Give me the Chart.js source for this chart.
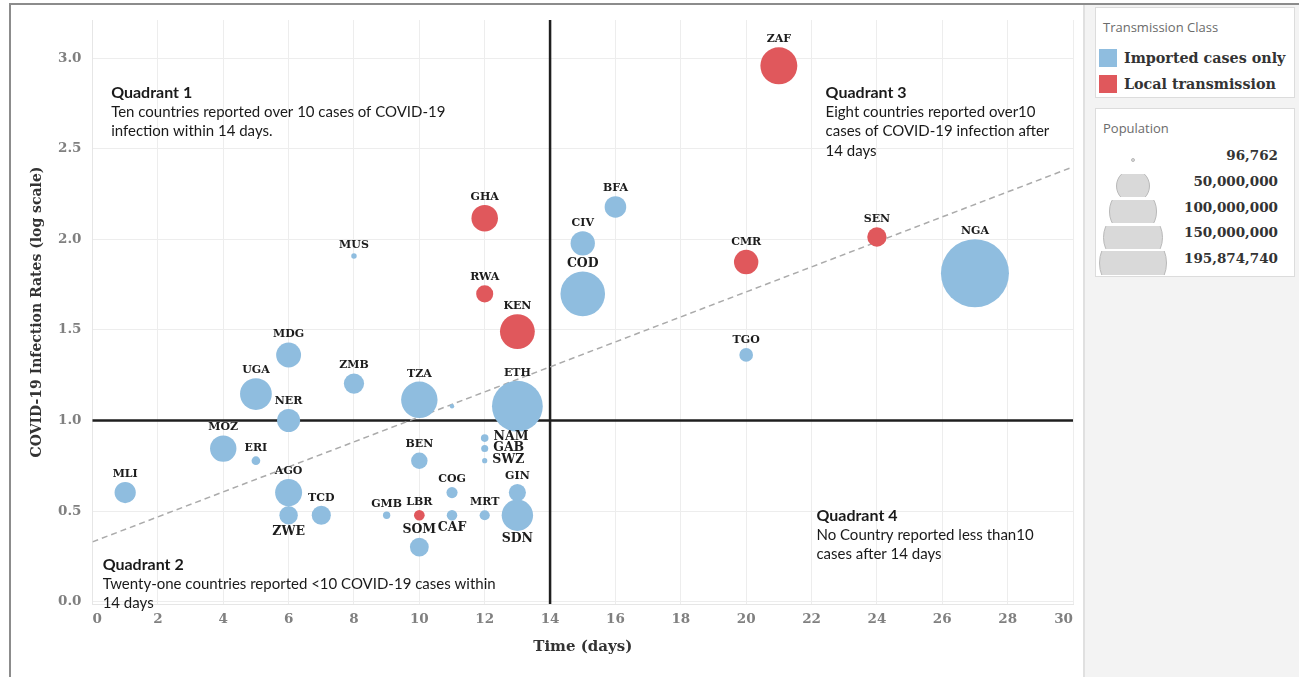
<!DOCTYPE html>
<html>
<head>
<meta charset="utf-8">
<script src="https://cdn.jsdelivr.net/npm/chart.js@4.4.1/dist/chart.umd.min.js"></script>
<style>
  body { margin: 0; width: 1299px; height: 677px; background: #fff; position: relative; overflow: hidden; }
  #chart { position: absolute; left: 0; top: 0; }
  .abs { position: absolute; }
  .frame-top { left: 9px; top: 3px; width: 1290px; height: 2px; background: #8c8c8c; }
  .frame-left { left: 9px; top: 3px; width: 2px; height: 674px; background: #8c8c8c; }
  .panel { left: 1083px; top: 5px; width: 216px; height: 672px; background: #f3f3f3; border-left: 2px solid #e0e0e0; box-sizing: border-box; }
  .box { background: #fff; border: 1px solid #dcdcdc; box-sizing: border-box; }
  .box-title { font: 13px "Open Sans", sans-serif; color: #6b6b6b; line-height: 18px; white-space: nowrap; }
  .swatch { width: 18px; height: 18px; }
  .item { font: bold 14.3px "DejaVu Serif", serif; color: #333; line-height: 18px; white-space: nowrap; }
  .size-row { left: 1096px; width: 198px; height: 26px; }
  .size-clip { position: absolute; left: 0; width: 80px; overflow: hidden; }
  .size-dot { position: absolute; border-radius: 50%; background: #d9d9d9; border: 1px solid #b9b9b9; box-sizing: border-box; }
  .size-label { position: absolute; right: 16px; top: 0; line-height: 26px; font: bold 13.5px "DejaVu Serif", serif; color: #333; }
</style>
</head>
<body>
<canvas id="chart" width="1080" height="677"></canvas>
<div class="abs panel"></div>
<div class="abs frame-top"></div>
<div class="abs frame-left"></div>
<div id="legend"></div>
<script>
// country codes, days since first case, infection rate (log10), population in millions, class
const countries = ['MLI','MOZ','ERI','UGA','MDG','NER','AGO','ZWE','TCD','ZMB','MUS','GMB','TZA','BEN','LBR','SOM','COG','CAF','SYC','MRT','NAM','GAB','SWZ','GHA','RWA','KEN','ETH','GIN','SDN','COD','CIV','BFA','CMR','TGO','ZAF','SEN','NGA'];
const days = [1,4,5,5,6,6,6,6,7,8,8,9,10,10,10,10,11,11,11,12,12,12,12,12,12,13,13,13,13,15,15,16,20,20,21,24,27];
const rates = [0.602,0.845,0.778,1.146,1.362,1.0,0.602,0.477,0.477,1.204,1.908,0.477,1.114,0.778,0.477,0.301,0.602,0.477,1.079,0.477,0.903,0.845,0.778,2.117,1.699,1.491,1.079,0.602,0.477,1.699,1.978,2.179,1.875,1.362,2.958,2.013,1.813];
const population = [19.08,29.50,3.20,42.72,26.26,22.44,30.81,14.44,15.48,17.35,1.27,2.28,56.32,11.49,4.82,15.01,5.24,4.67,0.097,4.40,2.45,2.12,1.14,29.77,12.30,51.39,109.22,12.41,41.80,84.07,25.07,19.75,25.22,7.89,57.78,15.85,195.87];
const transmission = ['I','I','I','I','I','I','I','I','I','I','I','I','I','I','L','I','I','I','I','I','I','I','I','L','L','L','I','I','I','I','I','I','L','I','L','L','I'];

const classNames = { I: 'Imported cases only', L: 'Local transmission' };
const classColors = { I: '#8fbddf', L: '#e0585c' };

// size legend values (persons)
const sizeLegend = [96762, 50000000, 100000000, 150000000, 195874740];

// quadrant cut-offs and trend line end points
const dayCut = 14;
const rateCut = 1.0;
const trendDays = [0, 30];
const trendRates = [0.33, 2.40];

const xTicks = { min: 0, max: 30, step: 2 };
const yTicks = { min: -0.013, max: 3.211, step: 0.5 };

const quadrantNotes = [
  { x: 0.57, y: 2.807, title: 'Quadrant 1', lines: ['Ten countries reported over 10 cases of COVID-19', 'infection within 14 days.'] },
  { x: 0.31, y: 0.202, title: 'Quadrant 2', lines: ['Twenty-one countries reported <10 COVID-19 cases within', '14 days'] },
  { x: 22.43, y: 2.807, title: 'Quadrant 3', lines: ['Eight countries reported over10', 'cases of COVID-19 infection after', '14 days'] },
  { x: 22.15, y: 0.473, title: 'Quadrant 4', lines: ['No Country reported less than10', 'cases after 14 days'] }
];

const labelBelow = ['ZWE','SDN','CAF'];
const labelRight = ['NAM','GAB','SWZ'];
const labelHidden = ['SYC'];
const labelLarge = ['ZWE','SDN','SOM','CAF','NAM','GAB','SWZ','COD'];

const maxPop = Math.max(...population);
const radiusFor = (p) => Math.max(2.2, 34 * Math.sqrt(p / maxPop));

function pointsFor(cls) {
  const pts = [];
  countries.forEach((c, i) => {
    if (transmission[i] === cls) pts.push({ x: days[i], y: rates[i], r: radiusFor(population[i]), name: c });
  });
  return pts;
}

const overlay = {
  id: 'overlay',
  beforeDatasetsDraw(chart) {
    const { ctx, chartArea: a, scales: { x, y } } = chart;
    ctx.save();
    ctx.strokeStyle = '#1f1f1f';
    ctx.lineWidth = 2.5;
    const px = x.getPixelForValue(dayCut);
    const py = y.getPixelForValue(rateCut);
    ctx.beginPath();
    ctx.moveTo(px, a.top); ctx.lineTo(px, a.bottom);
    ctx.moveTo(a.left, py); ctx.lineTo(a.right, py);
    ctx.stroke();
    ctx.restore();
  },
  afterDatasetsDraw(chart) {
    const { ctx, scales: { x, y } } = chart;
    ctx.save();
    ctx.fillStyle = '#1c1c1c';
    chart.data.datasets.forEach((ds, di) => {
      if (ds.type === 'line') return;
      const meta = chart.getDatasetMeta(di);
      meta.data.forEach((el, i) => {
        const d = ds.data[i];
        if (labelHidden.includes(d.name)) return;
        const size = labelLarge.includes(d.name) ? 12.5 : 11;
        ctx.font = 'bold ' + size + 'px "DejaVu Serif"';
        if (labelRight.includes(d.name)) {
          ctx.textAlign = 'left'; ctx.textBaseline = 'middle';
          ctx.fillText(d.name, el.x + d.r + 5, el.y - 1);
        } else if (labelBelow.includes(d.name)) {
          ctx.textAlign = 'center'; ctx.textBaseline = 'alphabetic';
          ctx.fillText(d.name, el.x, el.y + d.r + 11);
        } else {
          ctx.textAlign = 'center'; ctx.textBaseline = 'alphabetic';
          ctx.fillText(d.name, el.x, el.y - d.r - 5);
        }
      });
    });
    ctx.textAlign = 'left';
    ctx.textBaseline = 'middle';
    ctx.fillStyle = '#1a1a1a';
    quadrantNotes.forEach((q) => {
      const px = x.getPixelForValue(q.x);
      const py = y.getPixelForValue(q.y);
      ctx.font = 'bold 16px Lato';
      ctx.fillText(q.title, px, py);
      ctx.font = '15px Lato';
      q.lines.forEach((t, k) => ctx.fillText(t, px, py + 19.2 * (k + 1)));
    });
    ctx.restore();
  }
};

new Chart(document.getElementById('chart'), {
  type: 'bubble',
  data: {
    datasets: [
      { label: classNames.I, data: pointsFor('I'), backgroundColor: classColors.I, borderWidth: 0, order: 0 },
      { label: classNames.L, data: pointsFor('L'), backgroundColor: classColors.L, borderWidth: 0, order: 0 },
      {
        type: 'line', label: 'trend', order: 1,
        data: trendDays.map((d, i) => ({ x: d, y: trendRates[i] })),
        borderColor: '#ababab', borderWidth: 1.5, borderDash: [6, 4], pointRadius: 0, fill: false
      }
    ]
  },
  options: {
    responsive: false,
    animation: false,
    layout: { autoPadding: false, padding: { top: 20, right: 6.5, left: 0, bottom: 0 } },
    plugins: { legend: { display: false }, tooltip: { enabled: false } },
    scales: {
      x: {
        type: 'linear', min: xTicks.min, max: xTicks.max,
        afterFit: (s) => { s.height = 73; },
        grid: { color: '#ededed', drawTicks: false },
        border: { display: true, color: '#e6e6e6' },
        ticks: { stepSize: xTicks.step, align: 'inner', padding: 7, color: '#808080', font: { family: 'DejaVu Serif', weight: 'bold', size: 13.5 } },
        title: { display: true, text: 'Time (days)', color: '#333', font: { family: 'DejaVu Serif', weight: 'bold', size: 15 }, padding: { top: 0, bottom: 21 } }
      },
      y: {
        type: 'linear', min: yTicks.min, max: yTicks.max,
        afterFit: (s) => { s.width = 92.5; },
        grid: { color: '#ededed', drawTicks: false },
        border: { display: true, color: '#e6e6e6' },
        ticks: { stepSize: yTicks.step, includeBounds: false, padding: 11, color: '#808080', font: { family: 'DejaVu Serif', weight: 'bold', size: 13.5 }, callback: (v) => v.toFixed(1) },
        title: { display: true, text: 'COVID-19 Infection Rates (log scale)', color: '#333', font: { family: 'DejaVu Serif', weight: 'bold', size: 14 }, padding: { top: 29, bottom: 0 } }
      }
    }
  },
  plugins: [overlay]
});

// Tableau-style legend panel
const legend = document.getElementById('legend');
let html = '';
html += '<div class="abs box" style="left:1095px;top:7px;width:200px;height:91px"></div>';
html += '<div class="abs box-title" style="left:1103px;top:18px">Transmission Class</div>';
['I', 'L'].forEach((k, i) => {
  const top = 49 + i * 26;
  html += '<div class="abs swatch" style="left:1099px;top:' + top + 'px;background:' + classColors[k] + '"></div>';
  html += '<div class="abs item" style="left:1124px;top:' + top + 'px">' + classNames[k] + '</div>';
});
html += '<div class="abs box" style="left:1095px;top:108px;width:200px;height:169px"></div>';
html += '<div class="abs box-title" style="left:1103px;top:119px">Population</div>';
sizeLegend.forEach((p, i) => {
  const mid = 160 + i * 25.8;
  const top = mid - 13;
  const r = radiusFor(p / 1e6);
  const clipH = Math.min(23.4, 2 * r + 2);
  html += '<div class="abs size-row" style="top:' + top + 'px">' +
    '<div class="size-clip" style="top:' + (13 - clipH / 2) + 'px;height:' + clipH + 'px">' +
    '<div class="size-dot" style="left:' + (37 - r) + 'px;top:' + (clipH / 2 - r) + 'px;width:' + (2 * r) + 'px;height:' + (2 * r) + 'px"></div></div>' +
    '<div class="size-label">' + p.toLocaleString('en-US') + '</div></div>';
});
legend.innerHTML = html;
</script>
</body>
</html>
